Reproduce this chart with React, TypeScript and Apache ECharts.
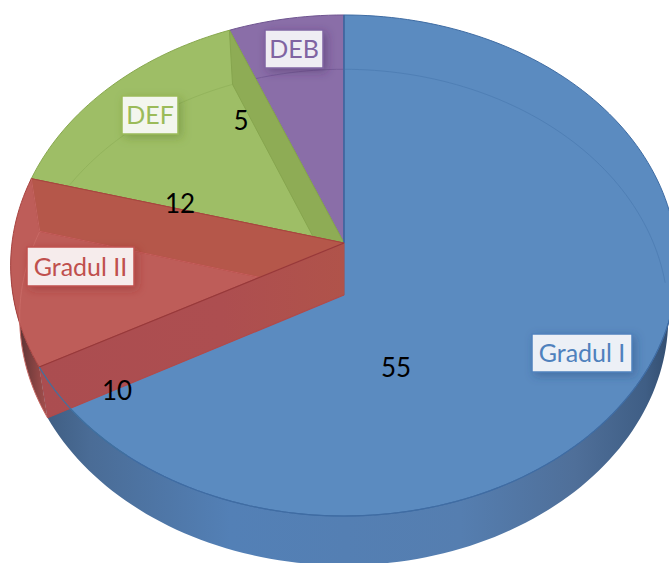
import React, { useEffect, useRef } from "react";
import * as echarts from "echarts";

const categories = ["Gradul I", "Gradul II", "DEF", "DEB"];
const values = [55, 10, 12, 5];

// Projective model of the tilted disc
const CX = 344;
const TOP_Y = 243;
const BOT_Y = 295;
const TOP_A = 332;
const TOP_B = 248.5;
const BOT_A = 323;
const BOT_B = 246;
const P = 0.0898;

type Pt = [number, number];
const total = values.reduce((a, b) => a + b, 0);
const toAngle = (v: number) => (v / total) * Math.PI * 2;
const project = (t: number, cy: number, A: number, B: number): Pt => {
  const w = 1 + P * Math.cos(t);
  return [CX + (A * Math.sin(t)) / w, cy - (B * Math.cos(t)) / w];
};
const topPt = (t: number) => project(t, TOP_Y, TOP_A, TOP_B);
const botPt = (t: number) => project(t, BOT_Y, BOT_A, BOT_B);
const arc = (f: (t: number) => Pt, a: number, b: number): Pt[] => {
  const n = Math.max(2, Math.ceil((Math.abs(b - a) / Math.PI) * 120));
  const out: Pt[] = [];
  for (let i = 0; i <= n; i++) out.push(f(a + ((b - a) * i) / n));
  return out;
};

const topColors = ["#5B8BC0", "#BE5D59", "#9EBE66", "#8A6EA8"];
const rimColors = ["#3F6CA3", "#A8423F", "#88A84F", "#6F5590"];
const backArcColors = ["#4F7FB5", "#C96A66", "#93B45C", "#775C98"];
const labelColors = ["#4F81BD", "#C0504D", "#9BBB59", "#8064A2"];
const labelFills = ["#ECF0F6", "#F6ECEC", "#F3F6EE", "#EFEDF3"];
const shadowColors = ["rgba(40,70,120,0.4)", "rgba(140,40,40,0.4)", "rgba(90,120,40,0.4)", "rgba(60,40,90,0.4)"];
const layerZ = [30, 40, 20, 10];

const labelBoxes = [
  { x: 532, y: 334, w: 100, h: 38 },
  { x: 27, y: 247, w: 107, h: 39 },
  { x: 122, y: 96, w: 56, h: 38 },
  { x: 265, y: 30, w: 58, h: 38 },
];
const valuePos: Pt[] = [
  [396, 367],
  [117, 390],
  [180, 203],
  [241, 120],
];

const hGrad = (stops: [number, string][]) => ({
  type: "linear",
  x: 0,
  y: 0,
  x2: 1,
  y2: 0,
  colorStops: stops.map(([offset, color]) => ({ offset, color })),
});

function renderSlice(params: any, api: any) {
  const i: number = params.dataIndex;
  let before = 0;
  for (let k = 0; k < i; k++) before += values[k];
  const a0 = toAngle(before);
  const a1 = toAngle(before + api.value(0));
  const z = layerZ[i];
  const apexT: Pt = [CX, TOP_Y];
  const apexB: Pt = [CX, BOT_Y];
  const children: any[] = [];
  const poly = (points: Pt[], fill: any, z2: number, stroke?: string, lineWidth = 1) => ({
    type: "polygon",
    shape: { points },
    z2,
    style: { fill, stroke: stroke ?? "none", lineWidth },
  });
  const line = (points: Pt[], stroke: string, z2: number, lineWidth = 1) => ({
    type: "polyline",
    shape: { points },
    z2,
    style: { fill: "none", stroke, lineWidth },
  });

  if (i === 0) {
    // outer wall, right side through the front
    const tArc = arc(topPt, Math.PI / 2 - 0.1, a1);
    const bArc = arc(botPt, a1, Math.PI / 2 - 0.1);
    children.push(
      poly(
        [...tArc, ...bArc],
        hGrad([
          [0, "#3E5C80"],
          [0.08, "#4A6C96"],
          [0.3, "#5380B6"],
          [0.66, "#557EB0"],
          [0.84, "#4F6F99"],
          [0.95, "#3F5E85"],
          [1, "#2F4868"],
        ]),
        z,
      ),
    );
  }
  if (i === 1) {
    const end = (3 * Math.PI) / 2 - 0.02;
    children.push(
      poly(
        [...arc(topPt, a0, end), ...arc(botPt, end, a0)],
        hGrad([
          [0, "#3C2A2C"],
          [0.4, "#6E3A3A"],
          [1, "#A8504E"],
        ]),
        z,
      ),
    );
  }

  children.push(poly([apexT, ...arc(topPt, a0, a1)], topColors[i], z + 1, rimColors[i]));

  // back rim of the floor, seen through the top
  if (i === 0) {
    children.push(line(arc(botPt, 0, Math.PI / 2 - 0.05), backArcColors[i], z + 2));
    children.push(line(arc(topPt, Math.PI / 2 - 0.1, a1), rimColors[i], z + 3, 1.2));
    children.push(line([apexT, topPt(0)], "#41669F", z + 8, 1.5));
  }
  if (i === 2 || i === 3) {
    children.push(line(arc(botPt, a0, a1), backArcColors[i], z + 2));
  }
  if (i === 2) {
    children.push(poly([topPt(a1), botPt(a1), apexB, apexT], "#8EAC55", z + 3, "#86A54E"));
  }
  if (i === 1) {
    children.push(line(arc(botPt, a0, a1), "#C96A66", z + 2));
    children.push(poly([topPt(a1), apexT, apexB, botPt(a1)], "#B5574A", z + 3, "#A8463F"));
    children.push(line([topPt(a1), botPt(a1)], "#C56561", z + 4));
    children.push(
      poly(
        [topPt(a0), apexT, apexB, botPt(a0)],
        hGrad([
          [0, "#AB4D50"],
          [0.6, "#AD4E50"],
          [1, "#B0534A"],
        ]),
        z + 5,
      ),
    );
    children.push(line([topPt(a0), apexT], "#98393A", z + 6, 1.2));
    children.push(line([botPt(a0), apexB], "#B04A4A", z + 6, 1.2));
    children.push(line(arc(topPt, a0, a0 - 0.42), "#41719F", z + 7, 1.2));
    children.push(line([botPt(a1), apexB], "#C75F5C", z + 4));
  }

  // data label box and value
  const box = labelBoxes[i];
  const vp = valuePos[i];
  children.push({
    type: "rect",
    shape: { x: box.x, y: box.y, width: box.w, height: box.h },
    z2: 100,
    style: {
      fill: labelFills[i],
      stroke: labelColors[i],
      lineWidth: 1.5,
      shadowBlur: 10,
      shadowOffsetX: 3,
      shadowOffsetY: 3,
      shadowColor: shadowColors[i],
    },
  });
  children.push({
    type: "text",
    z2: 101,
    style: {
      x: box.x + box.w / 2,
      y: box.y + box.h / 2 - 1,
      text: categories[i],
      align: "center",
      verticalAlign: "middle",
      fontFamily: "Lato",
      fontSize: 25,
      fill: labelColors[i],
    },
  });
  children.push({
    type: "text",
    z2: 101,
    style: {
      x: vp[0],
      y: vp[1],
      text: String(values[i]),
      align: "center",
      verticalAlign: "middle",
      fontFamily: "Lato",
      fontSize: 26,
      fill: "#000000",
    },
  });
  return { type: "group", children };
}

export default function App() {
  const ref = useRef<HTMLDivElement>(null);
  useEffect(() => {
    document.body.style.margin = "0";
    const chart = echarts.init(ref.current!, undefined, { renderer: "svg" });
    chart.setOption({
      animation: false,
      backgroundColor: "#ffffff",
      series: [
        {
          type: "custom",
          coordinateSystem: "none",
          silent: true,
          renderItem: renderSlice,
          data: categories.map((name, i) => ({ name, value: [values[i]] })),
        },
      ],
    });
    return () => chart.dispose();
  }, []);
  return <div ref={ref} style={{ width: 669, height: 563, overflow: "hidden" }} />;
}
